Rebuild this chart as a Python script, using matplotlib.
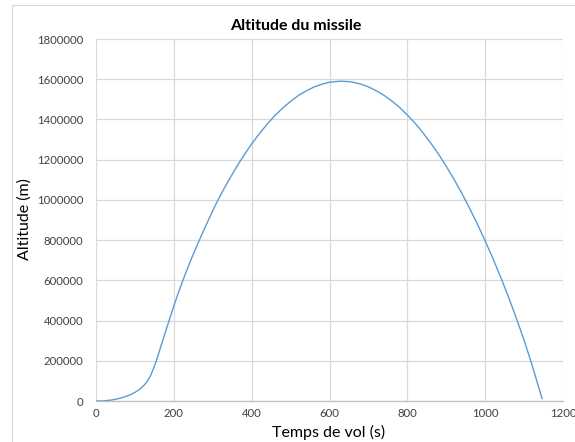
import matplotlib
matplotlib.use("Agg")
import matplotlib.pyplot as plt
from matplotlib.patches import Rectangle

# Data
temps = [0, 10, 20, 30, 40, 50, 60, 70, 80, 90, 100, 110, 120, 130, 140, 148, 155,
         160, 170, 180, 190, 200, 210, 220, 230, 240, 250, 260, 270, 280, 290, 300,
         310, 320, 330, 340, 350, 360, 370, 380, 390, 400, 420, 440, 460, 480, 500,
         520, 540, 560, 580, 600, 620, 630, 650, 660, 680, 700, 720, 740, 760, 780,
         800, 820, 840, 860, 880, 900, 920, 940, 960, 980, 1000, 1020, 1040, 1060,
         1080, 1100, 1120, 1140, 1146]
altitude = [0, 200, 1000, 2500, 5000, 8500, 13000, 18500, 25000, 33000, 43000,
            55000, 71000, 93000, 125000, 163000, 200000,
            230000, 292000, 353000, 413000, 472000, 529000, 583000, 634000, 683000,
            730000, 775000, 819000, 862000, 904000, 946000,
            986000, 1023000, 1059000, 1094000, 1127000, 1160000, 1191000, 1221000,
            1250000, 1278000, 1330000, 1377000, 1420000, 1457000, 1490000,
            1519000, 1542000, 1561000, 1575000, 1585000, 1589000, 1590000, 1588000,
            1585000, 1576000, 1562000, 1543000, 1520000, 1492000, 1460000,
            1422000, 1381000, 1334000, 1283000, 1228000, 1167000, 1102000, 1033000,
            958000, 880000, 796000, 708000, 615000, 517000,
            412000, 302000, 182000, 52000, 13000]
xticks = [0, 200, 400, 600, 800, 1000, 1200]
yticks = [0, 200000, 400000, 600000, 800000, 1000000, 1200000, 1400000, 1600000, 1800000]
title = "Altitude du missile"
xlabel = "Temps de vol (s)"
ylabel = "Altitude (m)"

W, H = 575, 442
fig = plt.figure(figsize=(W / 100, H / 100), dpi=100)
plt.rcParams['font.family'] = ['Lato', 'DejaVu Sans']

# Chart-area border (cropped at right/bottom in the reference)
fig.patches.append(Rectangle((12 / W, -0.05), 1.2, 1 - 5 / H + 0.05,
                             transform=fig.transFigure, fill=False,
                             edgecolor='#d9d9d9', linewidth=0.8))

ax = fig.add_axes([96 / W, 1 - 401 / H, (563 - 96) / W, (401 - 39) / H])
ax.plot(temps, altitude, color='#5b9bd5', linewidth=1.0, solid_joinstyle='round')

ax.set_xlim(0, 1200)
ax.set_ylim(0, 1800000)
ax.set_xticks(xticks)
ax.set_yticks(yticks)
ax.set_xticklabels([str(v) for v in xticks])
ax.set_yticklabels([str(v) for v in yticks])
ax.tick_params(axis='both', length=0, labelsize=8.2, colors='#404040')
ax.tick_params(axis='x', pad=5)
ax.tick_params(axis='y', pad=9)

ax.grid(True, color='#d9d9d9', linewidth=0.9)
ax.set_axisbelow(True)
for s in ['top', 'right', 'left']:
    ax.spines[s].set_visible(False)
ax.spines['bottom'].set_color('#bfbfbf')
ax.spines['bottom'].set_linewidth(0.9)

fig.text(296 / W, 1 - 26 / H, title, ha='center', va='center',
         fontsize=11.5, fontweight='bold', color='#000000')
fig.text(329 / W, 1 - 432 / H, xlabel, ha='center', va='center',
         fontsize=11.5, color='#000000')
fig.text(25 / W, 1 - 219 / H, ylabel, ha='center', va='center',
         rotation=90, fontsize=11.5, color='#000000')

fig.savefig('out.png', dpi=100)
